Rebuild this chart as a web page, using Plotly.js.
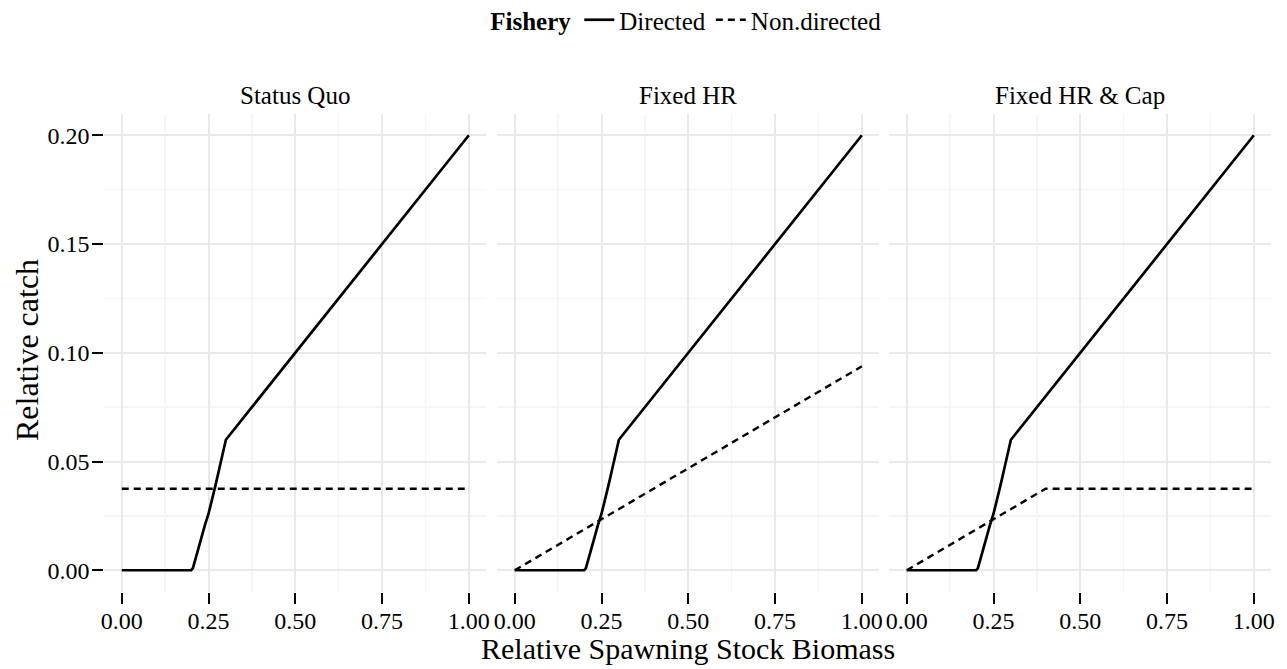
<!DOCTYPE html>
<html>
<head>
<meta charset="utf-8">
<script src="https://cdn.plot.ly/plotly-3.0.1.min.js"></script>
<style>
  html, body { margin: 0; padding: 0; background: #fff; }
  #chart { width: 1287px; height: 669px; }
</style>
</head>
<body>
<div id="chart"></div>
<script>
// Harvest control rules: relative catch against relative spawning stock biomass
const panels = ["Status Quo", "Fixed HR", "Fixed HR & Cap"];

// Directed fishery (same rule in every panel)
const directedSSB   = [0, 0.20, 0.205, 0.21, 0.22, 0.23, 0.24, 0.25, 0.26, 0.27, 0.28, 0.29, 0.30, 1.00];
const directedCatch = [0, 0.00, 0.001, 0.004, 0.009, 0.015, 0.021, 0.026, 0.032, 0.039, 0.046, 0.053, 0.060, 0.200];

// Non-directed fishery, one rule per panel
const nonDirSSB_statusQuo   = [0, 1];
const nonDirCatch_statusQuo = [0.0375, 0.0375];
const nonDirSSB_fixedHR     = [0, 1];
const nonDirCatch_fixedHR   = [0, 0.09375];
const nonDirSSB_cap         = [0, 0.4, 1];
const nonDirCatch_cap       = [0, 0.0375, 0.0375];

const nonDirSSB   = [nonDirSSB_statusQuo, nonDirSSB_fixedHR, nonDirSSB_cap];
const nonDirCatch = [nonDirCatch_statusQuo, nonDirCatch_fixedHR, nonDirCatch_cap];

const xTicks = [0, 0.25, 0.5, 0.75, 1];
const yTicks = [0, 0.05, 0.10, 0.15, 0.20];

const W = 1287, H = 669;
const FONT = "Liberation Serif";
const px = v => v / W;
const py = v => 1 - v / H;

// panel frames in pixels
const panelLeft = [104.4, 497.4, 889.4];
const panelWidth = 381.8;
const panelTop = 113.5, panelBottom = 592;

const traces = [];
panels.forEach((name, i) => {
  const xa = i === 0 ? "x" : "x" + (i + 1);
  const ya = i === 0 ? "y" : "y" + (i + 1);
  traces.push({
    type: "scatter", mode: "lines",
    x: directedSSB, y: directedCatch,
    xaxis: xa, yaxis: ya,
    name: "Directed", legendgroup: "Directed", showlegend: i === 0,
    line: { color: "#000", width: 2.7 },
    hoverinfo: "skip"
  });
  traces.push({
    type: "scatter", mode: "lines",
    x: nonDirSSB[i], y: nonDirCatch[i],
    xaxis: xa, yaxis: ya,
    name: "Non.directed", legendgroup: "Non.directed", showlegend: i === 0,
    line: { color: "#000", width: 2.4, dash: "7px,5px" },
    hoverinfo: "skip"
  });
});

const layout = {
  width: W, height: H,
  margin: { l: 0, r: 0, t: 0, b: 0, autoexpand: false },
  paper_bgcolor: "#fff", plot_bgcolor: "#fff",
  font: { family: FONT, color: "#000", size: 23 },
  showlegend: true,
  legend: {
    orientation: "h",
    x: 0.534, xanchor: "center",
    y: py(-3), yanchor: "top",
    font: { family: FONT, size: 25, color: "#000" },
    title: { text: "<b>Fishery</b>", font: { family: FONT, size: 25, color: "#000" }, side: "left" },
    itemwidth: 30,
    tracegroupgap: 0,
    bgcolor: "rgba(0,0,0,0)"
  },
  annotations: [],
};

panels.forEach((name, i) => {
  const sfx = i === 0 ? "" : String(i + 1);
  const dom = [px(panelLeft[i]), px(panelLeft[i] + panelWidth)];
  layout["xaxis" + sfx] = {
    domain: dom,
    anchor: "y" + sfx,
    range: [-0.05, 1.05],
    tickvals: xTicks,
    tickformat: ".2f",
    ticks: "outside", ticklen: 11, tickwidth: 2, tickcolor: "#000",
    ticklabelstandoff: -4,
    tickfont: { family: FONT, size: 24, color: "#000" },
    showline: false, zeroline: false,
    showgrid: true, gridcolor: "#e9e9e9", gridwidth: 2,
    minor: { dtick: 0.125, tick0: 0, showgrid: true, gridcolor: "#f5f5f5", gridwidth: 1.5, ticks: "" },
    fixedrange: true
  };
  layout["yaxis" + sfx] = {
    domain: [py(panelBottom), py(panelTop)],
    anchor: "x" + sfx,
    range: [-0.01, 0.21],
    tickvals: yTicks,
    tickformat: ".2f",
    ticks: i === 0 ? "outside" : "",
    showticklabels: i === 0,
    ticklen: 11, tickwidth: 2, tickcolor: "#000",
    ticklabelstandoff: -2,
    tickfont: { family: FONT, size: 24, color: "#000" },
    showline: false, zeroline: false,
    showgrid: true, gridcolor: "#e9e9e9", gridwidth: 2,
    minor: { dtick: 0.025, tick0: 0, showgrid: true, gridcolor: "#f5f5f5", gridwidth: 1.5, ticks: "" },
    fixedrange: true
  };
  // facet strip label
  layout.annotations.push({
    text: name, showarrow: false,
    xref: "paper", yref: "paper",
    x: px(panelLeft[i] + panelWidth / 2), y: py(96),
    xanchor: "center", yanchor: "middle",
    font: { family: FONT, size: 25, color: "#000" }
  });
});

// shared axis titles
layout.annotations.push({
  text: "Relative Spawning Stock Biomass", showarrow: false,
  xref: "paper", yref: "paper",
  x: px(687.5), y: py(648),
  xanchor: "center", yanchor: "middle",
  font: { family: FONT, size: 30, color: "#000" }
});
layout.annotations.push({
  text: "Relative catch", showarrow: false,
  xref: "paper", yref: "paper",
  x: px(27), y: py(350),
  xanchor: "center", yanchor: "middle",
  textangle: -90,
  font: { family: FONT, size: 32, color: "#000" }
});

Plotly.newPlot("chart", traces, layout, { displayModeBar: false, staticPlot: true });
</script>
</body>
</html>
